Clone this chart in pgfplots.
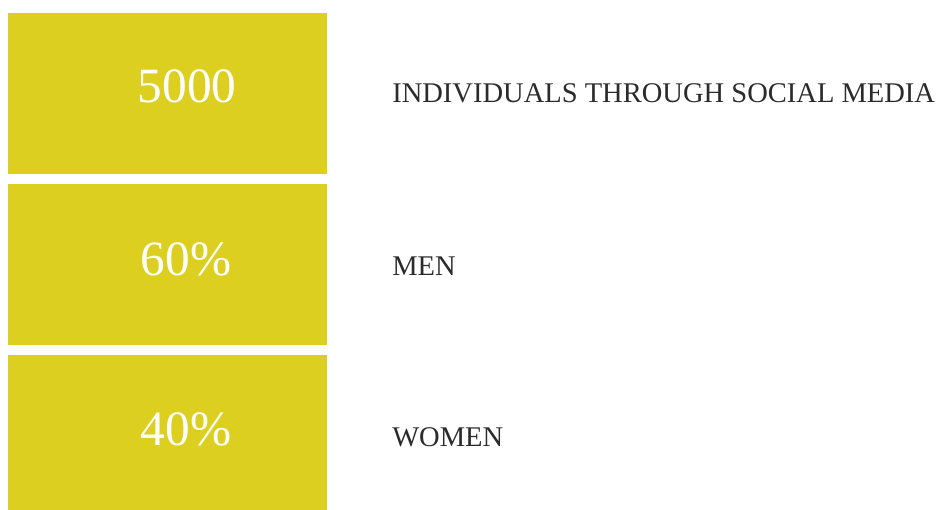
\documentclass[border=0pt]{standalone}
\usepackage{pgfplots}
\pgfplotsset{compat=1.18}
\usepackage{fontspec}
\setmainfont{Liberation Serif}
\definecolor{boxy}{HTML}{DDCF20}
\definecolor{txt}{HTML}{2B2B2B}
\begin{document}
\begin{tikzpicture}
\begin{axis}[
  hide axis, scale only axis,
  width=703.5pt, height=382.5pt,
  xmin=0, xmax=938, ymin=0, ymax=510, y dir=reverse,
  clip=false,
]
\addplot[fill=boxy, draw=none] coordinates {(8,13) (327,13) (327,174) (8,174)} -- cycle;
\addplot[fill=boxy, draw=none] coordinates {(8,184) (327,184) (327,345) (8,345)} -- cycle;
\addplot[fill=boxy, draw=none] coordinates {(8,355) (327,355) (327,510) (8,510)} -- cycle;
\node[anchor=base, text=white, font=\fontsize{37}{37}\selectfont] at (axis cs:187,103) {5000};
\node[anchor=base, text=white, font=\fontsize{37}{37}\selectfont] at (axis cs:186,275) {60\%};
\node[anchor=base, text=white, font=\fontsize{37}{37}\selectfont] at (axis cs:186,445) {40\%};
\node[anchor=base west, inner sep=0pt, text=txt, font=\fontsize{21.4}{21.4}\selectfont] at (axis cs:392,103) {INDIVIDUALS THROUGH SOCIAL MEDIA};
\node[anchor=base west, inner sep=0pt, text=txt, font=\fontsize{21.4}{21.4}\selectfont] at (axis cs:392,275) {MEN};
\node[anchor=base west, inner sep=0pt, text=txt, font=\fontsize{21.4}{21.4}\selectfont] at (axis cs:392,446) {WOMEN};
\end{axis}
\pgfresetboundingbox
\path[use as bounding box] (current axis.south west) rectangle (current axis.north east);
\end{tikzpicture}
\end{document}
